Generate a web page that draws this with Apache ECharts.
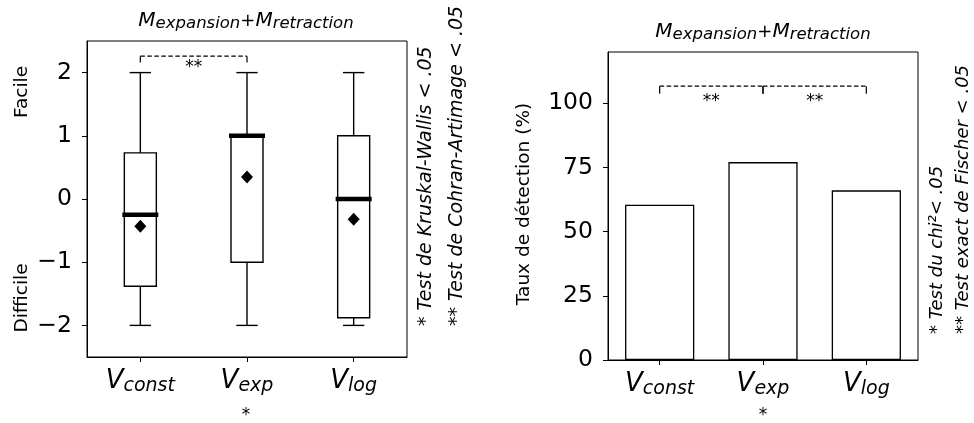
<!DOCTYPE html>
<html>
<head>
<meta charset="utf-8">
<script src="https://cdn.jsdelivr.net/npm/echarts@6/dist/echarts.min.js"></script>
<style>
html,body{margin:0;padding:0;background:#fff;}
#c{width:974px;height:423px;}
</style>
</head>
<body>
<div id="c"></div>
<script>
// ---- data ----
const categories = ['const', 'exp', 'log'];
// box plot stats: [min, Q1, median, Q3, max]
const boxMin = [-2, -2, -2];
const boxQ1 = [-1.38, -1, -1.88];
const boxMedian = [-0.25, 1, 0];
const boxQ3 = [0.73, 1, 1];
const boxMax = [2, 2, 2];
const boxMean = [-0.43, 0.35, -0.32];
const leftTicks = [-2, -1, 0, 1, 2];
// detection rate (%)
const detectionRate = [60.5, 77.1, 66.1];
const rightTicks = [0, 25, 50, 75, 100];
// significance brackets: [fromIndex, toIndex, lineValue, tickEndValue]
const leftBrackets = [[0, 1, 2.26, 2.16]];
const rightBrackets = [[0, 1, 106.7, 103.7], [1, 2, 106.7, 103.7]];
// significance labels: [categoryPosition, value, text]
const leftSigLabels = [[0.5, 2.08, '**']];
const rightSigLabels = [[0.5, 100.5, '**'], [1.5, 100.5, '**']];

const FONT = 'DejaVu Sans';
const chart = echarts.init(document.getElementById('c'), null, {renderer: 'canvas'});

const xLabelRich = {
  v: {fontFamily: FONT, fontStyle: 'italic', fontSize: 26, color: '#000'},
  s: {fontFamily: FONT, fontStyle: 'italic', fontSize: 19, color: '#000', padding: [10, 0, 0, 0]}
};
const titleRich = {
  m: {fontFamily: FONT, fontStyle: 'italic', fontSize: 20, color: '#000'},
  p: {fontFamily: FONT, fontSize: 18, color: '#000'},
  s: {fontFamily: FONT, fontStyle: 'italic', fontSize: 16.5, color: '#000', padding: [6, 0, 0, 0]}
};
const titleText = '{m|M}{s|expansion}{p|+}{m|M}{s|retraction}';

function xAxisCfg(gridIndex) {
  return {
    type: 'category', gridIndex, data: categories, boundaryGap: true,
    axisLine: {show: true, onZero: false, lineStyle: {color: '#000', width: 1}},
    axisTick: {show: true, alignWithLabel: true, length: 5, lineStyle: {color: '#000', width: 1}},
    axisLabel: {margin: 10, formatter: v => '{v|V}{s|' + v + '}', rich: xLabelRich},
    splitLine: {show: false}
  };
}
function yAxisCfg(gridIndex, min, max, ticks) {
  return {
    type: 'value', gridIndex, min, max,
    axisLine: {show: true, onZero: false, lineStyle: {color: '#000', width: 1}},
    axisTick: {show: true, length: 5, customValues: ticks, lineStyle: {color: '#000', width: 1}},
    axisLabel: {customValues: ticks, margin: 15, fontFamily: FONT, fontSize: 23.5, color: '#000',
      formatter: v => String(v).replace('-', '\u2212')},
    splitLine: {show: false}
  };
}

function bracketRender(params, api) {
  const a = api.value(0), b = api.value(1), yv = api.value(2), ye = api.value(3);
  const p1 = api.coord([a, yv]), p2 = api.coord([b, yv]);
  const e1 = api.coord([a, ye]), e2 = api.coord([b, ye]);
  const st = {stroke: '#000', lineWidth: 1.2, lineDash: [4.5, 2.5]};
  return {type: 'group', children: [
    {type: 'line', shape: {x1: p1[0], y1: p1[1], x2: p2[0], y2: p2[1]}, style: st},
    {type: 'line', shape: {x1: p1[0], y1: p1[1], x2: e1[0], y2: e1[1]}, style: {stroke: '#000', lineWidth: 1.2}},
    {type: 'line', shape: {x1: p2[0], y1: p2[1], x2: e2[0], y2: e2[1]}, style: {stroke: '#000', lineWidth: 1.2}}
  ]};
}
function sigRender(params, api) {
  const catPos = api.value(0);
  const i0 = Math.floor(catPos), frac = catPos - i0;
  const pa = api.coord([i0, api.value(1)]);
  const w = api.size([1, 0])[0];
  const txt = params.seriesName === 'sigL' ? leftSigLabels[params.dataIndex][2] : rightSigLabels[params.dataIndex][2];
  return {type: 'text', x: pa[0] + frac * w, y: pa[1],
    style: {text: txt, fontFamily: FONT, fontSize: 17, fill: '#000', align: 'center', verticalAlign: 'middle'}};
}

const boxData = categories.map((c, i) => [i, boxMin[i], boxQ1[i], boxMedian[i], boxQ3[i], boxMax[i]]);

const option = {
  animation: false,
  backgroundColor: '#fff',
  grid: [
    {left: 87, top: 41, width: 320, height: 316, show: true, borderColor: '#000', borderWidth: 1, backgroundColor: 'transparent'},
    {left: 608, top: 52, width: 310, height: 308, show: true, borderColor: '#000', borderWidth: 1, backgroundColor: 'transparent'}
  ],
  xAxis: [xAxisCfg(0), xAxisCfg(1)],
  yAxis: [yAxisCfg(0, -2.5, 2.5, leftTicks), yAxisCfg(1, 0, 120, rightTicks)],
  series: [
    {
      type: 'custom', name: 'box', xAxisIndex: 0, yAxisIndex: 0, data: boxData,
      encode: {x: 0, y: [1, 2, 3, 4, 5]},
      renderItem: function (params, api) {
        const i = api.value(0);
        const w = api.size([1, 0])[0];
        const bw = w * 0.3, cw = w * 0.2;
        const pMin = api.coord([i, api.value(1)]);
        const pQ1 = api.coord([i, api.value(2)]);
        const pMed = api.coord([i, api.value(3)]);
        const pQ3 = api.coord([i, api.value(4)]);
        const pMax = api.coord([i, api.value(5)]);
        const x = pMin[0];
        const ls = {stroke: '#000', lineWidth: 1.4};
        return {type: 'group', children: [
          {type: 'rect', shape: {x: x - bw / 2, y: pQ3[1], width: bw, height: pQ1[1] - pQ3[1]}, style: {fill: '#fff', stroke: '#000', lineWidth: 1.4}},
          {type: 'line', shape: {x1: x, y1: pQ1[1], x2: x, y2: pMin[1]}, style: ls},
          {type: 'line', shape: {x1: x, y1: pQ3[1], x2: x, y2: pMax[1]}, style: ls},
          {type: 'line', shape: {x1: x - cw / 2, y1: pMin[1], x2: x + cw / 2, y2: pMin[1]}, style: ls},
          {type: 'line', shape: {x1: x - cw / 2, y1: pMax[1], x2: x + cw / 2, y2: pMax[1]}, style: ls},
          {type: 'line', shape: {x1: x - bw / 2 - 2, y1: pMed[1], x2: x + bw / 2 + 2, y2: pMed[1]}, style: {stroke: '#000', lineWidth: 4.5}}
        ]};
      },
      z: 2
    },
    {
      type: 'scatter', name: 'mean', xAxisIndex: 0, yAxisIndex: 0,
      data: boxMean.map((m, i) => [i, m]), symbol: 'diamond', symbolSize: [12, 13],
      itemStyle: {color: '#000', opacity: 1}, z: 3
    },
    {type: 'custom', name: 'brL', xAxisIndex: 0, yAxisIndex: 0, data: leftBrackets, renderItem: bracketRender, clip: false},
    {type: 'custom', name: 'sigL', xAxisIndex: 0, yAxisIndex: 0, data: leftSigLabels.map(r => [r[0], r[1]]), renderItem: sigRender, clip: false},
    {
      type: 'bar', name: 'rate', xAxisIndex: 1, yAxisIndex: 1, data: detectionRate, barWidth: '67%',
      itemStyle: {color: '#fff', borderColor: '#000', borderWidth: 1.3}
    },
    {type: 'custom', name: 'brR', xAxisIndex: 1, yAxisIndex: 1, data: rightBrackets, renderItem: bracketRender, clip: false},
    {type: 'custom', name: 'sigR', xAxisIndex: 1, yAxisIndex: 1, data: rightSigLabels.map(r => [r[0], r[1]]), renderItem: sigRender, clip: false}
  ],
  graphic: [
    {type: 'text', x: 246, y: 21, style: {text: titleText, rich: titleRich, align: 'center', verticalAlign: 'middle'}},
    {type: 'text', x: 763, y: 32, style: {text: titleText, rich: titleRich, align: 'center', verticalAlign: 'middle'}},
    {type: 'text', x: 22, y: 92, rotation: Math.PI / 2, style: {text: 'Facile', fontFamily: FONT, fontSize: 18.5, fill: '#000', align: 'center', verticalAlign: 'middle'}},
    {type: 'text', x: 22, y: 298, rotation: Math.PI / 2, style: {text: 'Difficile', fontFamily: FONT, fontSize: 18.5, fill: '#000', align: 'center', verticalAlign: 'middle'}},
    {type: 'text', x: 524, y: 204, rotation: Math.PI / 2, style: {text: 'Taux de détection (%)', fontFamily: FONT, fontSize: 18.5, fill: '#000', align: 'center', verticalAlign: 'middle'}},
    {type: 'text', x: 426, y: 326, rotation: Math.PI / 2, style: {text: '* Test de Kruskal-Wallis < .05', fontFamily: FONT, fontStyle: 'italic', fontSize: 19, fill: '#000', align: 'left', verticalAlign: 'middle'}},
    {type: 'text', x: 457, y: 326, rotation: Math.PI / 2, style: {text: '** Test de Cohran-Artimage < .05', fontFamily: FONT, fontStyle: 'italic', fontSize: 19, fill: '#000', align: 'left', verticalAlign: 'middle'}},
    {type: 'text', x: 937, y: 334, rotation: Math.PI / 2, style: {text: '* Test du chi²< .05', fontFamily: FONT, fontStyle: 'italic', fontSize: 18, fill: '#000', align: 'left', verticalAlign: 'middle'}},
    {type: 'text', x: 963, y: 334, rotation: Math.PI / 2, style: {text: '** Test exact de Fischer < .05', fontFamily: FONT, fontStyle: 'italic', fontSize: 18, fill: '#000', align: 'left', verticalAlign: 'middle'}},
    {type: 'text', x: 246, y: 416, style: {text: '*', fontFamily: FONT, fontSize: 17, fill: '#000', align: 'center', verticalAlign: 'middle'}},
    {type: 'text', x: 763, y: 416, style: {text: '*', fontFamily: FONT, fontSize: 17, fill: '#000', align: 'center', verticalAlign: 'middle'}}
  ]
};
chart.setOption(option);
</script>
</body>
</html>
